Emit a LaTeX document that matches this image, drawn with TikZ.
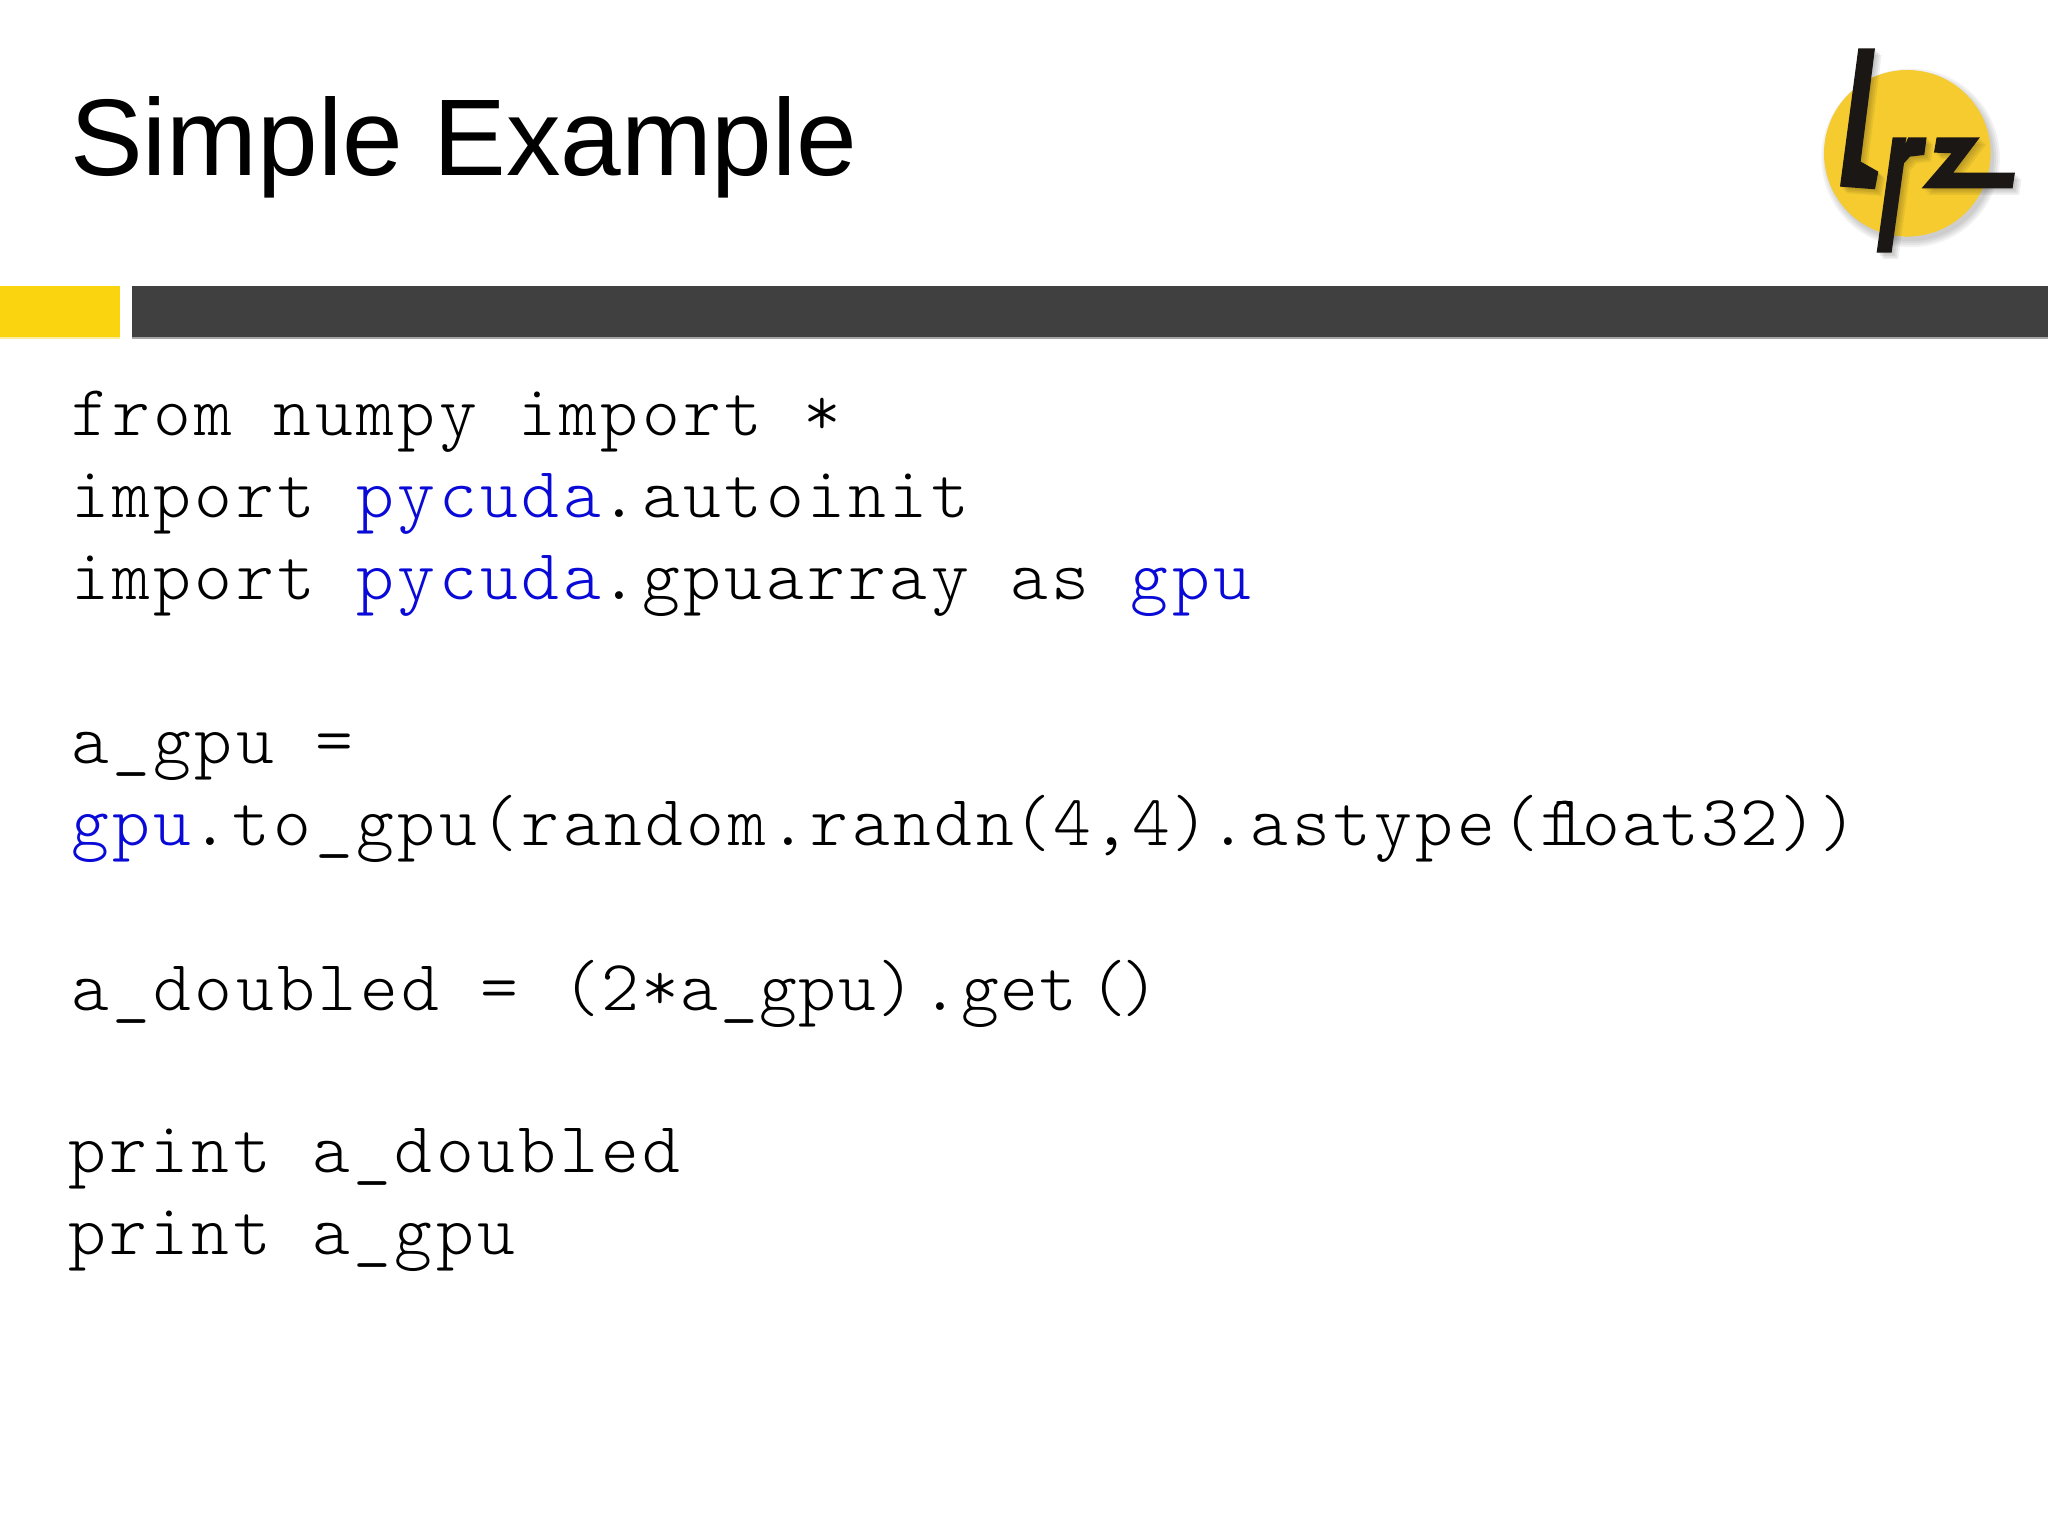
\documentclass[tikz,border=0pt]{standalone}
\usepackage{fontspec}
\setmainfont{Liberation Sans}
\newfontfamily\codefont[LetterSpace=4.86]{Latin Modern Mono Light}
\newfontfamily\codetight[LetterSpace=2.3]{Latin Modern Mono Light}
\definecolor{barY}{HTML}{F9D40F}
\definecolor{barD}{HTML}{404040}
\definecolor{logoY}{HTML}{F5CB30}
\definecolor{logoK}{HTML}{1A1714}
\definecolor{kw}{HTML}{0A0AD8}
\newcommand{\kw}[1]{\textcolor{kw}{#1}}
\newcommand{\flig}{f\kern-0.355em l\kern-0.11em }
\newcommand{\lrzletters}{%
 (235,55)--(285,55)--(242,395)--(295,425)--(285,478)--(180,470)--cycle
 (290,668)--(335,668)--(372,400)--(390,380)--(433,375)--(440,322)--(385,322)--(375,345)--(380,322)--(338,322)--cycle
 (470,322)--(600,322)--(520,428)--(705,428)--(698,475)--(425,475)--(515,370)--(462,368)--cycle}
\tikzset{
  codeline/.style={anchor=base west,inner sep=0pt,outer sep=0pt,font=\fontsize{36}{36}\selectfont\codefont,text=black},
  titletext/.style={anchor=base west,inner sep=0pt,outer sep=0pt,font=\fontsize{54.5}{54.5}\selectfont,text=black},
}
\begin{document}
\begin{tikzpicture}[x=0.5pt,y=-0.5pt]
\useasboundingbox (0,0) rectangle (2048,1536);
\fill[white] (0,0) rectangle (2048,1536);
\fill[black!35] (132,288) rectangle (2048,339);
\fill[barY!40] (0,336) rectangle (120,339);
\fill[barY] (0,286) rectangle (120,337);
\fill[barD] (132,286) rectangle (2048,337);
\node[titletext] (title) at (70,175) {Simple Example};
\begin{scope}[shift={(1780,30)},x=0.1666pt,y=-0.1666pt]
 \foreach \r in {268,262,256,250} \fill[black,opacity=0.05] (392,384) circle (\r);
 \fill[logoY] (382,370) circle (250);
 \foreach \d in {5,10,15,20} {
   \begin{scope}[shift={(\d,\d)}]
   \fill[black,opacity=0.06] \lrzletters;
   \end{scope}
 }
 \fill[logoK] \lrzletters;
\end{scope}
\node[codeline] (l1) at (71,435) {from numpy import *};
\node[codeline] (l2) at (71,517) {import \kw{pycuda}.autoinit};
\node[codeline] (l3) at (71,599) {import \kw{pycuda}.gpuarray as \kw{gpu}};
\node[codeline] (l4) at (71,763) {a\_gpu =};
\node[codeline] (l5) at (71,845) {\kw{gpu}.to\_gpu(random.randn{\codetight(4,4)}.astype\kern3pt{\codetight(\flig oat32))}};
\node[codeline] (l6) at (71,1010) {a\_doubled = \kern1.3pt{\codetight(2*a\_gpu)}\kern3pt{\codetight.get}\kern6pt{\codetight(\kern-3pt)}};
\node[codeline] (l7) at (68,1172) {print a\_doubled};
\node[codeline] (l8) at (68,1254) {print a\_gpu};
\end{tikzpicture}
\end{document}
